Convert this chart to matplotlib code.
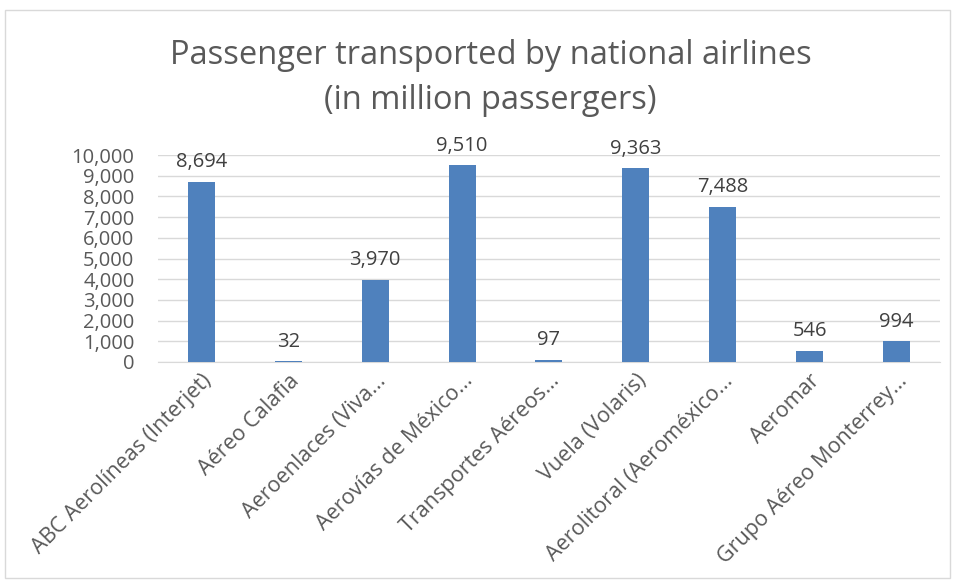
import matplotlib.pyplot as plt
import matplotlib.patches as mp
from matplotlib.ticker import FuncFormatter

airlines = ['ABC Aerolíneas (Interjet)', 'Aéreo Calafia', 'Aeroenlaces (Viva...',
            'Aerovías de México...', 'Transportes Aéreos...', 'Vuela (Volaris)',
            'Aerolitoral (Aeroméxico...', 'Aeromar', 'Grupo Aéreo Monterrey...']
passengers = [8694, 32, 3970, 9510, 97, 9363, 7488, 546, 994]
yticks = list(range(0, 10001, 1000))

plt.rcParams['font.family'] = ['Open Sans', 'DejaVu Sans']
txt = '#595959'

fig = plt.figure(figsize=(9.58, 5.81), dpi=100)
fig.patches.append(mp.Rectangle((5 / 958, 3 / 581), 945 / 958, 568 / 581,
                                transform=fig.transFigure, fill=False,
                                edgecolor='#d9d9d9', linewidth=1))
ax = fig.add_axes([0.165, 0.377, 0.816, 0.356])

x = range(len(airlines))
bars = ax.bar(x, passengers, width=0.31, color='#4f81bd', zorder=3)
for b, v in zip(bars, passengers):
    ax.annotate(f'{v:,}', (b.get_x() + b.get_width() / 2, v), xytext=(0, 7),
                textcoords='offset points', ha='center', va='bottom',
                fontsize=14.5, color='#404040')

ax.set_xlim(-0.5, len(airlines) - 0.5)
ax.set_ylim(0, 10000)
ax.set_yticks(yticks)
ax.yaxis.set_major_formatter(FuncFormatter(lambda v, p: f'{int(v):,}'))
ax.grid(axis='y', color='#d9d9d9', linewidth=1, zorder=0)
for s in ['top', 'right', 'left']:
    ax.spines[s].set_visible(False)
ax.spines['bottom'].set_color('#d9d9d9')
ax.tick_params(axis='y', length=0, labelsize=14.5, colors=txt, pad=17)
ax.tick_params(axis='x', length=0, labelsize=15.5, colors=txt, pad=6)
ax.set_xticks(list(x))
ax.set_xticklabels(airlines, rotation=45, ha='right', rotation_mode='anchor')

fig.text(0.512, 0.905, 'Passenger transported by national airlines', ha='center',
         va='center', fontsize=23.5, color=txt)
fig.text(0.512, 0.827, '(in million passergers)', ha='center', va='center',
         fontsize=23.5, color=txt)

fig.savefig('out.png', dpi=100)
